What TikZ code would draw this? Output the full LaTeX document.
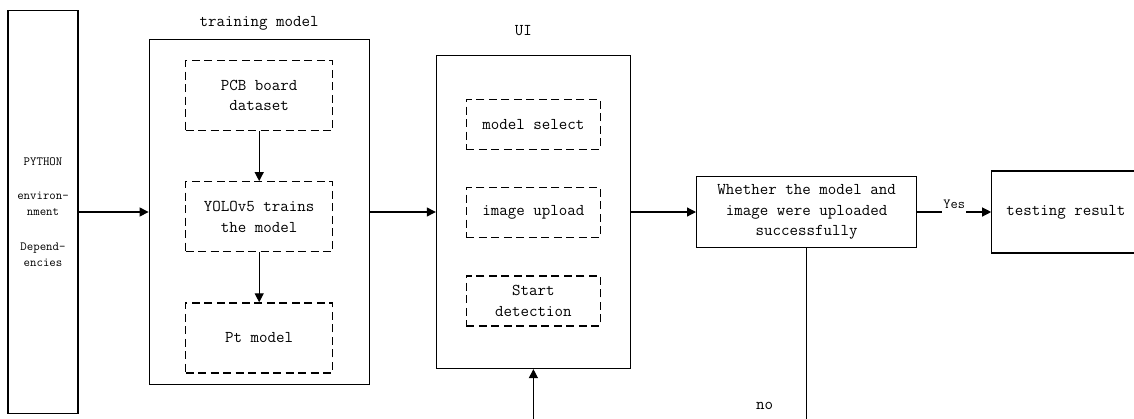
\documentclass[tikz,border=0pt]{standalone}
\usepackage{fontspec}
\usepackage{tikz}
\usetikzlibrary{arrows.meta, positioning, calc}
\newcommand{\BigTT}{\ttfamily\fontsize{16.5}{20.5}\selectfont}
\newcommand{\SmallTT}{\ttfamily\fontsize{12.5}{15.5}\selectfont}
\tikzset{
    bigbox/.style={draw, line width=1.2pt, inner sep=2pt, align=center},
    dashbox/.style={draw, line width=1.2pt, dash pattern=on 8pt off 4.5pt, align=center},
    flow/.style={-{Triangle[length=9pt, width=9pt]}, line width=1.2pt},
    every node/.append style={font=\BigTT},
}

\begin{document}
\begin{tikzpicture}[x=1pt, y=-1pt]
    \tikzset{
      node distance=50pt
    }
    \useasboundingbox (0,0) rectangle (1134,418);
    \clip (0,0) rectangle (1134,418);

    \node[bigbox, minimum width=70pt, minimum height=403pt, font=\SmallTT] (py) at (43,212)
      {PYTHON\\[19pt]environ-\\nment\\[20pt]Depend-\\encies};

    % training model
    \node[bigbox, minimum width=220pt, minimum height=345pt, right=70pt of py] (train) {};
    \node[inner sep=0pt, above=8pt of train] (traintitle) {training model};
    \node[dashbox, minimum width=147pt, minimum height=70pt, below=21pt of train.north] (pcb) {PCB board\\dataset};
    \node[dashbox, minimum width=147pt, minimum height=70pt, below=of pcb] (yolo) {YOLOv5 trains\\the model};
    \node[dashbox, minimum width=147pt, minimum height=70pt, below=of yolo] (pt) {Pt model};

    \draw[flow] (pcb) -- (yolo);
    \draw[flow] (yolo) -- (pt);

    % UI
    \node[bigbox, minimum width=194pt, minimum height=313pt, right=66pt of train] (ui) {};
    \node[inner sep=0pt, above=19pt of ui, xshift=-10pt] (uititle) {UI};
    \node[dashbox, minimum width=134pt, minimum height=50pt, below=44pt of ui.north] (sel) {model select};
    \node[dashbox, minimum width=134pt, minimum height=50pt, below=37pt of sel] (upl) {image upload};
    \node[dashbox, minimum width=134pt, minimum height=50pt, below=37pt of upl] (det) {Start\\detection};

    \node[bigbox, minimum width=220pt, minimum height=71pt, right=65pt of ui] (dec)
      {Whether the model and\\image were uploaded\\successfully};
    \node[bigbox, minimum width=148pt, minimum height=82pt, right=74pt of dec] (res) {testing result};

    \draw[flow] (py) -- (train);
    \draw[flow] (train) -- (ui);
    \draw[flow] (ui) -- (dec);
    \draw[flow] (dec) -- node[fill=white, font=\ttfamily\fontsize{14}{16}\selectfont, inner xsep=1pt, inner ysep=0pt,
      minimum height=18pt, yshift=7pt] {\raisebox{2pt}{Yes}} (res);

    \coordinate (back) at (670,440);
    \draw[flow] (dec.south) |- node[pos=0.41, left=33pt, inner sep=0pt] {no} (back) -| (ui.south);
\end{tikzpicture}
\end{document}
